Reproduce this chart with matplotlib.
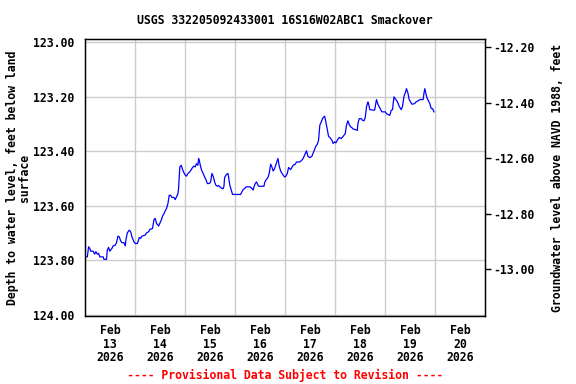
import numpy as np
import matplotlib
matplotlib.use("Agg")
import matplotlib.pyplot as plt

# ── Data (hours after 2026-02-13 00:00, depth in ft) ────────────────────────
hours = [
    0.3, 1.0, 1.6, 2.2, 2.6, 3.8, 4.5, 5.1, 5.8, 6.4, 7.0, 8.6, 9.0, 10.2,
    10.6, 11.2, 11.8, 12.8, 13.4, 14.4, 15.0, 15.7, 16.3, 17.0, 17.6, 18.6,
    19.2, 19.5, 20.2, 21.1, 21.8, 22.4, 23.4, 24.0, 25.0, 25.6, 25.9, 26.6,
    27.2, 28.8, 29.4, 30.4, 31.0, 32.3, 33.0, 33.6, 34.2, 35.2, 35.8, 36.5,
    37.1, 37.8, 38.4, 39.0, 39.7, 40.3, 41.0, 41.6, 42.6, 43.2, 43.8, 44.5,
    44.8, 45.4, 46.1, 46.7, 47.4, 48.0, 48.6, 49.3, 50.2, 50.9, 51.5, 52.2,
    52.8, 53.4, 54.1, 54.4, 54.7, 55.4, 56.0, 56.6, 57.3, 57.9, 58.6, 59.5,
    60.2, 60.8, 61.4, 62.1, 62.7, 63.4, 64.0, 64.6, 65.6, 66.2, 66.6, 66.9,
    67.8, 68.5, 68.8, 69.4, 70.1, 70.7, 72.0, 74.6, 75.2, 75.8, 76.5, 77.4,
    79.0, 80.0, 80.6, 81.0, 81.6, 82.2, 83.2, 85.8, 86.1, 86.7, 87.7, 88.3,
    89.0, 89.6, 90.2, 90.9, 91.8, 92.5, 93.1, 93.8, 94.7, 95.7, 96.3, 97.0,
    97.6, 98.6, 99.2, 99.8, 100.8, 101.4, 103.0, 104.0, 104.6, 105.6, 106.2,
    106.9, 107.8, 108.8, 109.4, 110.1, 110.7, 111.4, 112.0, 112.3, 112.6,
    113.3, 113.9, 114.2, 114.9, 115.5, 116.2, 116.8, 117.4, 118.4, 119.0,
    119.7, 120.3, 121.0, 121.9, 122.9, 123.8, 124.8, 125.4, 126.1, 126.7,
    127.4, 128.0, 128.6, 129.6, 130.6, 130.9, 131.5, 132.5, 133.1, 133.8,
    134.4, 135.0, 135.7, 136.0, 136.6, 138.9, 139.5, 139.8, 140.5, 141.1,
    141.8, 142.4, 144.0, 144.6, 146.2, 146.9, 147.5, 147.8, 148.2, 148.8,
    149.4, 150.1, 150.7, 151.7, 152.3, 153.0, 153.6, 154.2, 154.9, 155.5,
    156.2, 156.8, 158.1, 158.7, 159.7, 160.6, 162.2, 162.6, 163.0, 163.5,
    164.2, 164.8, 165.4, 166.1, 166.7, 167.4,
]
depth = [
    123.788, 123.788, 123.751, 123.757, 123.767, 123.767, 123.778, 123.769,
    123.778, 123.775, 123.788, 123.788, 123.797, 123.797, 123.763, 123.753,
    123.767, 123.757, 123.748, 123.745, 123.736, 123.712, 123.714, 123.729,
    123.736, 123.736, 123.748, 123.726, 123.700, 123.690, 123.696, 123.714,
    123.733, 123.739, 123.739, 123.726, 123.717, 123.720, 123.712, 123.708,
    123.700, 123.696, 123.687, 123.684, 123.651, 123.647, 123.665, 123.675,
    123.665, 123.653, 123.639, 123.629, 123.619, 123.611, 123.592, 123.562,
    123.562, 123.570, 123.570, 123.578, 123.568, 123.556, 123.537, 123.458,
    123.452, 123.468, 123.480, 123.488, 123.492, 123.482, 123.476, 123.468,
    123.460, 123.455, 123.458, 123.446, 123.452, 123.427, 123.433, 123.458,
    123.473, 123.482, 123.495, 123.504, 123.519, 123.519, 123.513, 123.482,
    123.492, 123.513, 123.525, 123.529, 123.526, 123.531, 123.537, 123.537,
    123.529, 123.497, 123.485, 123.482, 123.495, 123.525, 123.543, 123.559,
    123.559, 123.559, 123.549, 123.541, 123.537, 123.531, 123.531, 123.537,
    123.543, 123.531, 123.519, 123.513, 123.529, 123.529, 123.516, 123.507,
    123.497, 123.482, 123.448, 123.458, 123.473, 123.464, 123.443, 123.427,
    123.455, 123.473, 123.485, 123.495, 123.492, 123.482, 123.460, 123.468,
    123.460, 123.452, 123.448, 123.440, 123.440, 123.433, 123.427, 123.409,
    123.399, 123.419, 123.424, 123.419, 123.407, 123.394, 123.382, 123.375,
    123.360, 123.330, 123.305, 123.293, 123.281, 123.277, 123.272, 123.293,
    123.321, 123.346, 123.350, 123.360, 123.372, 123.366, 123.370, 123.360,
    123.350, 123.354, 123.346, 123.336, 123.305, 123.289, 123.302, 123.311,
    123.314, 123.319, 123.321, 123.324, 123.299, 123.281, 123.281, 123.287,
    123.289, 123.277, 123.238, 123.220, 123.226, 123.248, 123.250, 123.223,
    123.211, 123.228, 123.238, 123.248, 123.256, 123.256, 123.263, 123.269,
    123.250, 123.248, 123.226, 123.201, 123.208, 123.214, 123.223, 123.236,
    123.248, 123.236, 123.199, 123.187, 123.171, 123.187, 123.211, 123.220,
    123.228, 123.226, 123.220, 123.216, 123.211, 123.211, 123.187, 123.171,
    123.189, 123.208, 123.216, 123.226, 123.244, 123.244, 123.256,
]

depth_ticks = [123.0, 123.2, 123.4, 123.6, 123.8, 124.0]
elev_ticks = [-12.2, -12.4, -12.6, -12.8, -13.0]
day_labels = ["Feb\n13\n2026", "Feb\n14\n2026", "Feb\n15\n2026", "Feb\n16\n2026",
              "Feb\n17\n2026", "Feb\n18\n2026", "Feb\n19\n2026", "Feb\n20\n2026"]

start = np.datetime64("2026-02-13T00:00")
times = start + (np.array(hours) * 60).astype("timedelta64[m]")

plt.rcParams["font.family"] = ["DejaVu Sans Mono"]
plt.rcParams["font.weight"] = "bold"
plt.rcParams["font.size"] = 8.3

fig = plt.figure(figsize=(5.76, 3.84), dpi=100)
ax = fig.add_axes([0.148, 0.177, 0.6944, 0.7206])

ax.plot(times, depth, color="#0000ff", linewidth=0.9)

# x axis: gridlines at midnight, labels at noon
ax.set_xlim(start, start + np.timedelta64(8, "D"))
ax.set_xticks(start + np.arange(1, 8) * np.timedelta64(1, "D"))
ax.set_xticklabels([])
ax.tick_params(axis="x", which="major", length=0)
ax.set_xticks(start + np.arange(8) * np.timedelta64(1, "D") + np.timedelta64(12, "h"),
              minor=True)
ax.set_xticklabels(day_labels, minor=True, fontweight="bold", linespacing=1.05)
ax.tick_params(axis="x", which="minor", length=0, pad=6)

# left axis
ax.set_ylim(124.005, 122.99)
ax.set_yticks(depth_ticks)
ax.set_yticklabels([f"{v:.2f}" for v in depth_ticks], fontweight="bold")
ax.tick_params(axis="y", length=0, pad=8)
ax.set_ylabel("Depth to water level, feet below land\nsurface",
              fontweight="bold", linespacing=0.95, labelpad=1)

ax.grid(True, color="#cccccc", linewidth=1.0)
for s in ax.spines.values():
    s.set_linewidth(1.0)

# right axis
ax2 = ax.twinx()
ax2.set_ylim(-13.168, -12.171)
ax2.set_yticks(elev_ticks)
ax2.set_yticklabels([f"{v:.2f}" for v in elev_ticks], fontweight="bold")
ax2.tick_params(axis="y", length=4, width=1.0, pad=2)
ax2.set_ylabel("Groundwater level above NAVD 1988, feet", fontweight="bold",
               labelpad=12)

fig.text(0.5 * (0.148 + 0.8424), 1 - 20 / 384,
         "USGS 332205092433001 16S16W02ABC1 Smackover",
         ha="center", va="center", fontweight="bold")
fig.text(0.5 * (0.148 + 0.8424), 1 - 375 / 384,
         "---- Provisional Data Subject to Revision ----",
         ha="center", va="center", color="red", fontweight="bold")

fig.savefig("out.png", dpi=100)
